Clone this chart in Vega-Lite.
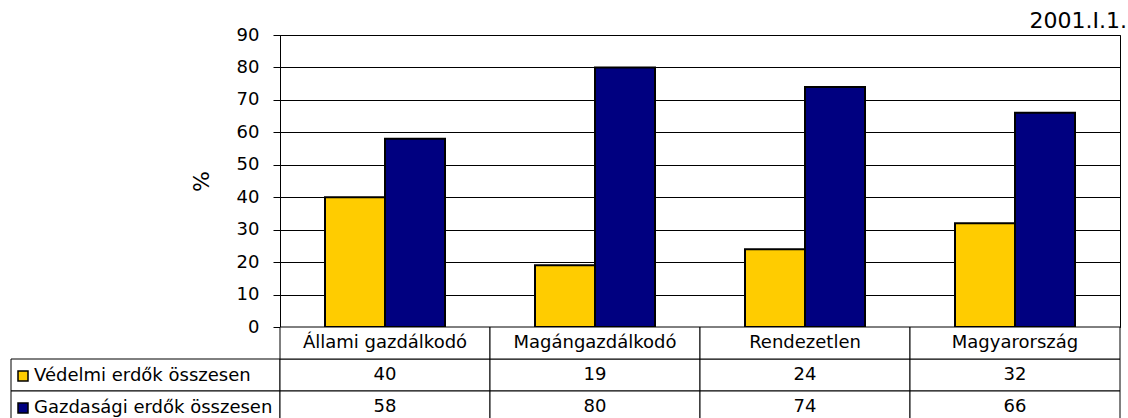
{
  "$schema": "https://vega.github.io/schema/vega-lite/v6.json",
  "background": "white",
  "padding": {"left": 10, "top": 9, "right": 0, "bottom": 0},
  "datasets": {
    "main": [
      {"category": "Állami gazdálkodó", "series": "Védelmi erdők összesen", "value": 40},
      {"category": "Állami gazdálkodó", "series": "Gazdasági erdők összesen", "value": 58},
      {"category": "Magángazdálkodó", "series": "Védelmi erdők összesen", "value": 19},
      {"category": "Magángazdálkodó", "series": "Gazdasági erdők összesen", "value": 80},
      {"category": "Rendezetlen", "series": "Védelmi erdők összesen", "value": 24},
      {"category": "Rendezetlen", "series": "Gazdasági erdők összesen", "value": 74},
      {"category": "Magyarország", "series": "Védelmi erdők összesen", "value": 32},
      {"category": "Magyarország", "series": "Gazdasági erdők összesen", "value": 66}
    ]
  },
  "config": {
    "font": "DejaVu Sans",
    "view": {"stroke": "black", "strokeWidth": 1},
    "axis": {
      "domainColor": "black", "tickColor": "black", "gridColor": "black",
      "labelColor": "black", "titleColor": "black",
      "labelFont": "DejaVu Sans", "titleFont": "DejaVu Sans"
    },
    "text": {"font": "DejaVu Sans", "fontSize": 18, "color": "black"}
  },
  "columns": 2,
  "spacing": 0,
  "bounds": "flush",
  "align": "each",
  "concat": [
    {
      "width": 269,
      "height": 292,
      "view": {"stroke": null},
      "data": {"values": [{"blank": ""}]},
      "mark": {"type": "text"},
      "encoding": {"text": {"field": "blank"}}
    },
    {
      "width": 840,
      "height": 292,
      "title": {
        "text": "2001.I.1.", "anchor": "end", "dx": 7, "offset": -7,
        "font": "DejaVu Sans", "fontSize": 22, "fontWeight": "normal", "color": "black"
      },
      "data": {"name": "main"},
      "mark": {"type": "bar", "stroke": "black", "strokeWidth": 2},
      "encoding": {
        "x": {
          "field": "category", "type": "nominal",
          "sort": ["Állami gazdálkodó", "Magángazdálkodó", "Rendezetlen", "Magyarország"],
          "scale": {"paddingInner": 0.4286, "paddingOuter": 0.2143},
          "axis": null
        },
        "xOffset": {
          "field": "series", "type": "nominal",
          "sort": ["Védelmi erdők összesen", "Gazdasági erdők összesen"],
          "scale": {"paddingInner": 0, "paddingOuter": 0}
        },
        "y": {
          "field": "value", "type": "quantitative",
          "scale": {"domain": [0, 90], "nice": false},
          "axis": {
            "values": [0, 10, 20, 30, 40, 50, 60, 70, 80, 90],
            "title": "%", "titleFontSize": 22, "titleFontWeight": "normal", "titlePadding": 23,
            "labelFontSize": 18, "labelPadding": 14, "tickSize": 7,
            "grid": true, "gridWidth": 1, "gridOpacity": 1
          }
        },
        "color": {
          "field": "series", "type": "nominal",
          "scale": {"domain": ["Védelmi erdők összesen", "Gazdasági erdők összesen"], "range": ["#FFCC00", "#000080"]},
          "legend": {
            "orient": "none", "legendX": 3, "legendY": 332,
            "title": null, "padding": 0,
            "symbolType": "square", "symbolSize": 100,
            "symbolStrokeColor": "black", "symbolStrokeWidth": 1.5, "symbolOpacity": 1,
            "symbolOffset": 0, "labelOffset": 2,
            "labelFont": "DejaVu Sans", "labelFontSize": 18, "labelColor": "black", "labelLimit": 0,
            "rowPadding": 14
          }
        }
      }
    },
    {
      "width": 269,
      "height": 96,
      "view": {"stroke": null},
      "data": {"name": "main"},
      "transform": [{"filter": "datum.category === 'Állami gazdálkodó'"}],
      "mark": {"type": "rect", "fill": "white", "stroke": "black", "strokeWidth": 1},
      "encoding": {
        "y": {
          "field": "series", "type": "nominal",
          "scale": {"domain": ["fejléc", "Védelmi erdők összesen", "Gazdasági erdők összesen"], "paddingInner": 0, "paddingOuter": 0},
          "axis": null
        }
      }
    },
    {
      "width": 840,
      "height": 96,
      "view": {"stroke": null},
      "data": {"name": "main"},
      "encoding": {
        "x": {
          "field": "category", "type": "nominal",
          "sort": ["Állami gazdálkodó", "Magángazdálkodó", "Rendezetlen", "Magyarország"],
          "scale": {"paddingInner": 0, "paddingOuter": 0},
          "axis": null
        }
      },
      "layer": [
        {
          "mark": {"type": "rect", "fill": "white", "stroke": "black", "strokeWidth": 1},
          "encoding": {
            "y": {
              "field": "series", "type": "nominal",
              "scale": {"domain": ["fejléc", "Védelmi erdők összesen", "Gazdasági erdők összesen"], "paddingInner": 0, "paddingOuter": 0},
              "axis": null
            }
          }
        },
        {
          "transform": [{"filter": "datum.series === 'Védelmi erdők összesen'"}],
          "mark": {"type": "rect", "fill": "white", "stroke": "black", "strokeWidth": 1},
          "encoding": {"y": {"datum": "fejléc", "type": "nominal"}}
        },
        {
          "mark": {"type": "text", "baseline": "middle", "align": "center"},
          "encoding": {
            "y": {"field": "series", "type": "nominal"},
            "text": {"field": "value", "type": "quantitative"}
          }
        },
        {
          "transform": [{"filter": "datum.series === 'Védelmi erdők összesen'"}],
          "mark": {"type": "text", "baseline": "middle", "align": "center"},
          "encoding": {
            "y": {"datum": "fejléc", "type": "nominal"},
            "text": {"field": "category", "type": "nominal"}
          }
        }
      ]
    }
  ]
}
